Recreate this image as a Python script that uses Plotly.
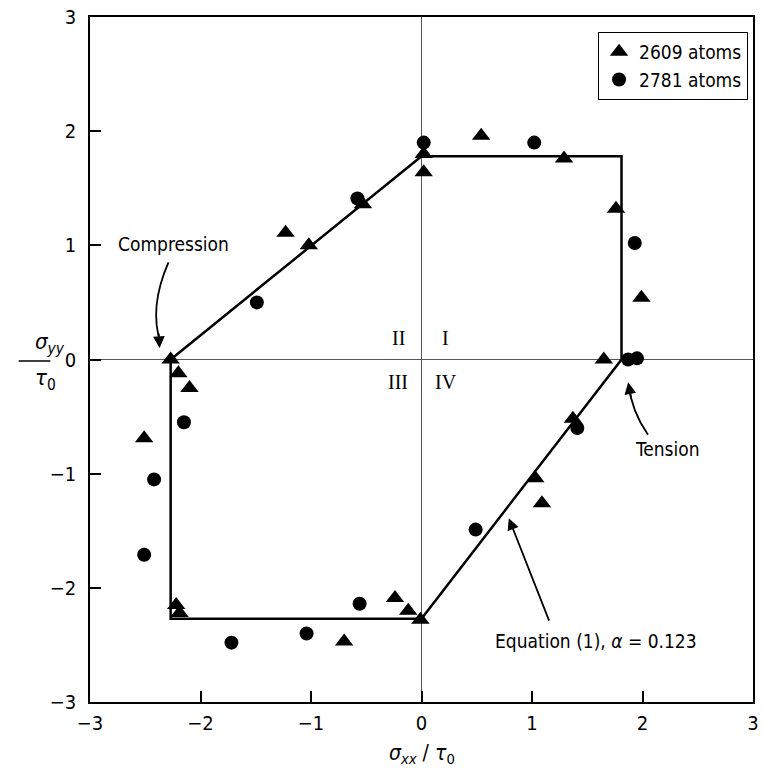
import plotly.graph_objects as go

# 2609 atoms (triangles)
tri_x = [-2.27, -2.20, -2.10, -2.51, -2.22, -2.19, -0.70, -0.24, -0.12, -0.01,
         0.02, 0.02, 0.54, 1.29, 1.76, 1.99, 1.65, 1.37, 1.03, 1.09, -0.53, -1.23, -1.02]
tri_y = [0.00, -0.12, -0.25, -0.69, -2.15, -2.22, -2.47, -2.09, -2.20, -2.28,
         1.80, 1.64, 1.96, 1.76, 1.32, 0.54, 0.00, -0.52, -1.04, -1.26, 1.36, 1.11, 1.00]

# 2781 atoms (circles)
circ_x = [-2.15, -2.42, -2.51, -1.72, -1.04, -0.56, 0.02, 1.02, 1.93, 1.87, 1.95,
          1.41, 0.49, -0.58, -1.49]
circ_y = [-0.55, -1.05, -1.71, -2.48, -2.40, -2.14, 1.90, 1.90, 1.02, 0.00, 0.01,
          -0.60, -1.49, 1.41, 0.50]

# Equation (1) yield surface
eq_x = [-2.27, 0.0, 1.81, 1.81, 0.0, -2.27, -2.27]
eq_y = [0.0, 1.78, 1.78, 0.0, -2.27, -2.27, 0.0]

ticks = [-3, -2, -1, 0, 1, 2, 3]
tick_text = ["\u22123", "\u22122", "\u22121", "0", "1", "2", "3"]

FONT = "DejaVu Sans Condensed, Liberation Sans Narrow, Roboto, sans-serif"
SERIF = "Liberation Serif, Times New Roman, serif"

fig = go.Figure()
fig.add_trace(go.Scatter(x=eq_x, y=eq_y, mode="lines",
                         line=dict(color="black", width=2.5), showlegend=False,
                         hoverinfo="skip"))
fig.add_trace(go.Scatter(x=tri_x, y=tri_y, mode="markers", name="2609 atoms",
                         marker=dict(symbol="triangle-up", size=16, color="black")))
fig.add_trace(go.Scatter(x=circ_x, y=circ_y, mode="markers", name="2781 atoms",
                         marker=dict(symbol="circle", size=14, color="black")))

L, R, T, B = 90, 5, 15, 78
PW, PH = 764 - L - R, 780 - T - B


def px(xp):
    return (xp - L) / PW


def py(yp):
    return (780 - B - yp) / PH


axis_common = dict(range=[-3, 3], tickvals=ticks, ticktext=tick_text,
                   ticks="inside", ticklen=11, tickwidth=1.5, tickcolor="black",
                   showline=True, linecolor="black", linewidth=1.5, mirror=True,
                   showgrid=False, zeroline=True, zerolinecolor="#555555",
                   zerolinewidth=1, tickfont=dict(family=FONT, size=20, color="black"))

fig.update_layout(
    width=764, height=780,
    margin=dict(l=L, r=R, t=T, b=B),
    plot_bgcolor="white", paper_bgcolor="white",
    xaxis=dict(**axis_common, ticklabelstandoff=2),
    yaxis=dict(**axis_common, ticklabelstandoff=8),
    legend=dict(x=px(754), y=py(30), xanchor="right", yanchor="top",
                bordercolor="black", borderwidth=1, bgcolor="white",
                font=dict(family=FONT, size=19, color="black"),
                itemwidth=30, tracegroupgap=2),
    showlegend=True,
)

ann = []
# quadrant labels
for txt, x, y in [("II", -0.21, 0.19), ("I", 0.22, 0.19), ("III", -0.21, -0.20), ("IV", 0.22, -0.20)]:
    ann.append(dict(x=x, y=y, text=txt, showarrow=False,
                    font=dict(family=SERIF, size=20, color="black")))
# text labels
ann.append(dict(x=-2.24, y=1.01, text="Compression", showarrow=False,
                font=dict(family=FONT, size=19, color="black")))
ann.append(dict(x=2.23, y=-0.78, text="Tension", showarrow=False,
                font=dict(family=FONT, size=19, color="black")))
ann.append(dict(x=1.58, y=-2.47, text="Equation (1), <i>\u03b1</i> = 0.123", showarrow=False,
                font=dict(family=FONT, size=19, color="black")))
# Equation arrow
ann.append(dict(x=0.79, y=-1.39, ax=1.16, ay=-2.30, axref="x", ayref="y",
                text="", showarrow=True, arrowhead=2, arrowsize=1.3, arrowwidth=1.8,
                arrowcolor="black"))
# arrowheads for curved arrows
ann.append(dict(x=-2.37, y=0.10, ax=-1, ay=-16, text="", showarrow=True,
                arrowhead=2, arrowsize=1.3, arrowwidth=1.8, arrowcolor="black"))
ann.append(dict(x=1.87, y=-0.20, ax=3, ay=16, text="", showarrow=True,
                arrowhead=2, arrowsize=1.3, arrowwidth=1.8, arrowcolor="black"))
# axis titles
ann.append(dict(xref="paper", yref="paper", x=0.5, y=py(754), yanchor="middle",
                text="<i>\u03c3<sub>xx</sub></i> / <i>\u03c4</i><sub>0</sub>", showarrow=False,
                font=dict(family=FONT, size=21, color="black")))
ann.append(dict(xref="paper", yref="paper", x=px(32), y=py(342), yanchor="middle",
                text="<i>\u03c3<sub>yy</sub></i>", showarrow=False,
                font=dict(family=FONT, size=22, color="black")))
ann.append(dict(xref="paper", yref="paper", x=px(32), y=py(379), yanchor="middle",
                text="<i>\u03c4</i><sub>0</sub>", showarrow=False,
                font=dict(family=FONT, size=22, color="black")))
fig.update_layout(annotations=ann)

shapes = [
    dict(type="line", xref="paper", yref="paper", x0=px(18), x1=px(50),
         y0=py(360), y1=py(360), line=dict(color="black", width=1.5)),
    dict(type="path", xref="x", yref="y",
         path="M -2.29,0.85 Q -2.47,0.45 -2.36,0.14",
         line=dict(color="black", width=1.8)),
    dict(type="path", xref="x", yref="y",
         path="M 2.05,-0.66 Q 1.90,-0.45 1.875,-0.22",
         line=dict(color="black", width=1.8)),
]
fig.update_layout(shapes=shapes)

fig.write_html("out.html")
